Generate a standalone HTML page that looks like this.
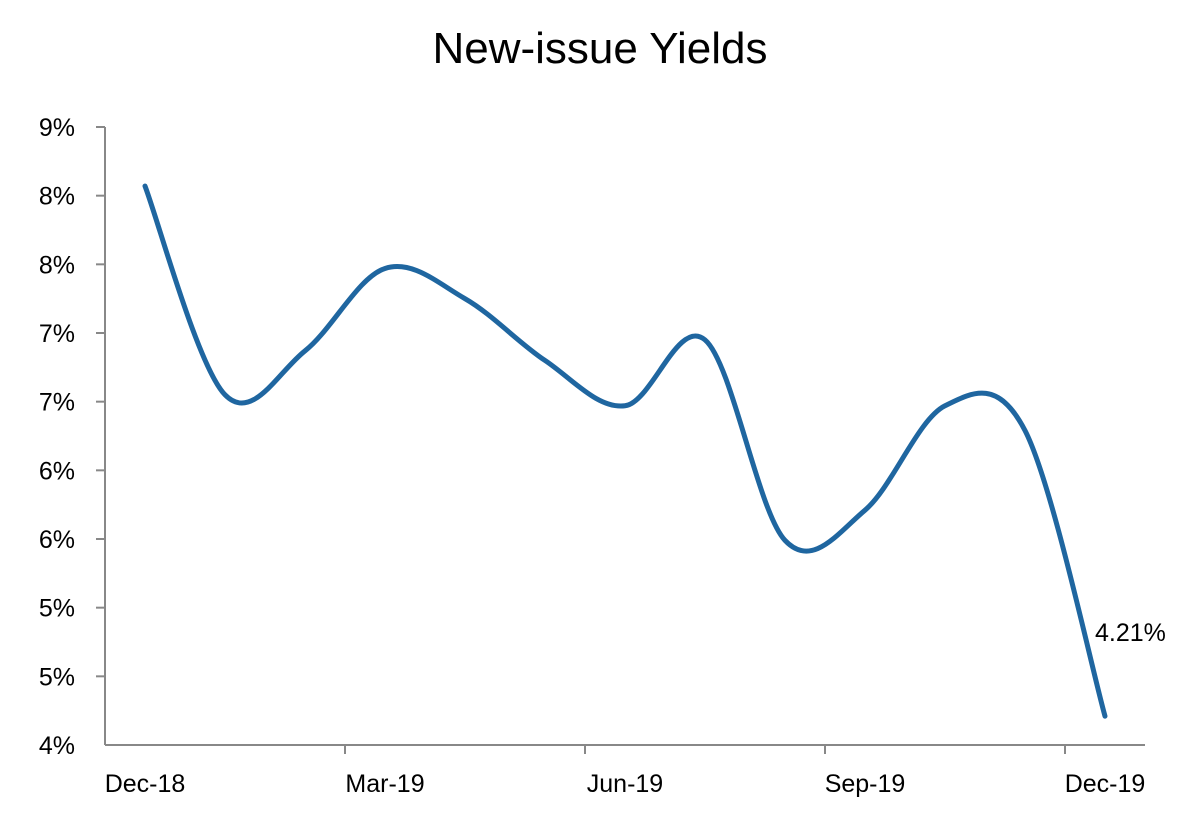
<!DOCTYPE html>
<html><head><meta charset="utf-8"><style>
body{margin:0;background:#fff;font-family:"Liberation Sans",sans-serif;}
svg text{font-family:"Liberation Sans",sans-serif;fill:#000;}
</style></head><body>
<svg width="1183" height="827">
<text x="600" y="63" text-anchor="middle" font-size="44">New-issue Yields</text>
<g id="axes"></g>
<path id="line" fill="none" stroke="#1f66a0" stroke-width="5" stroke-linecap="round"/>
<text id="lbl" font-size="25"></text>
</svg>
<script>
const months=["Dec-18","Jan-19","Feb-19","Mar-19","Apr-19","May-19","Jun-19","Jul-19","Aug-19","Sep-19","Oct-19","Nov-19","Dec-19"];
const yields=[8.07,6.55,6.87,7.47,7.25,6.80,6.47,6.95,5.49,5.71,6.47,6.29,4.21];
const yTicks=[4,4.5,5,5.5,6,6.5,7,7.5,8,8.5];
const xTickLabels=["Dec-18","Mar-19","Jun-19","Sep-19","Dec-19"];
const x0=105,x1=1145,yb=745,yt=127;
const yMin=4,yMax=8.5;
const band=(x1-x0)/months.length;
const X=i=>x0+band*(i+0.5);
const Y=v=>yb-(v-yMin)/(yMax-yMin)*(yb-yt);
const ns="http://www.w3.org/2000/svg";
const g=document.getElementById('axes');
function mk(t,a){const e=document.createElementNS(ns,t);for(const k in a)e.setAttribute(k,a[k]);g.appendChild(e);return e;}
let e=mk('line',{x1:x0,y1:yt,x2:x0,y2:yb,stroke:'#888','stroke-width':2});


e=mk('line',{x1:x0,y1:yb,x2:x1,y2:yb,stroke:'#888','stroke-width':2});


yTicks.slice(1).forEach(v=>{
 const y=Y(v);
 const t=mk('line',{x1:x0-9,y1:y,x2:x0,y2:y,stroke:'#888','stroke-width':2});
 
 
});
yTicks.forEach(v=>{
 const y=Y(v);
 const t=mk('text',{x:x0-30,y:y+9,'text-anchor':'end','font-size':25});
 t.textContent=Math.round(v)+'%';
 
 
});
xTickLabels.forEach((l,k)=>{
 const i=k*3;
 const tx=x0+band*i;
 if(k>0){const t=mk('line',{x1:tx,y1:yb,x2:tx,y2:yb+9,stroke:'#888','stroke-width':2});
 
 }
 const t=mk('text',{x:X(i),y:yb+47,'text-anchor':'middle','font-size':25});
 t.textContent=l;
 
 
});
const P=yields.map((v,i)=>[X(i),Y(v)]);
let d='M'+P[0][0]+','+P[0][1];
const s=0.34;
for(let i=0;i<P.length-1;i++){
 const p0=P[Math.max(i-1,0)],p1=P[i],p2=P[i+1],p3=P[Math.min(i+2,P.length-1)];
 const c1=[p1[0]+(p2[0]-p0[0])*s/2,p1[1]+(p2[1]-p0[1])*s/2];
 const c2=[p2[0]-(p3[0]-p1[0])*s/2,p2[1]-(p3[1]-p1[1])*s/2];
 d+=` C${c1[0]},${c1[1]} ${c2[0]},${c2[1]} ${p2[0]},${p2[1]}`;
}
document.getElementById('line').setAttribute('d',d);
const lb=document.getElementById('lbl');
const last=P[P.length-1];
lb.setAttribute('x',last[0]-10);
lb.setAttribute('y',last[1]-75);
lb.textContent=yields[yields.length-1].toFixed(2)+'%';
</script>
</body></html>
